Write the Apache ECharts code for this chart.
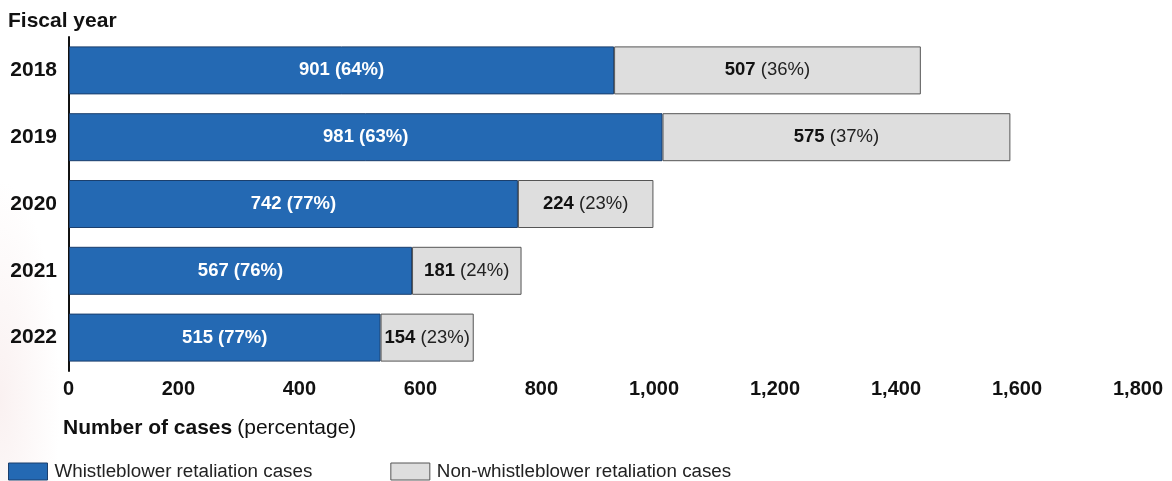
<!DOCTYPE html>
<html>
<head>
<meta charset="utf-8">
<script src="https://cdn.jsdelivr.net/npm/echarts@6/dist/echarts.min.js"></script>
<style>
html,body{margin:0;padding:0;background:#fff;}
#chart{width:1172px;height:481px;
  background: radial-gradient(ellipse 60px 220px at 0px 400px, rgba(240,215,215,0.35), rgba(255,255,255,0) 100%), #fff;}
</style>
</head>
<body>
<div id="chart"></div>
<script>
const years = ['2018', '2019', '2020', '2021', '2022'];
const whistleCases = [901, 981, 742, 567, 515];
const whistlePct = [64, 63, 77, 76, 77];
const nonWhistleCases = [507, 575, 224, 181, 154];
const nonWhistlePct = [36, 37, 23, 24, 23];
const xTicks = [0, 200, 400, 600, 800, 1000, 1200, 1400, 1600, 1800];

const FONT = '"Liberation Sans", Arial, sans-serif';
const chart = echarts.init(document.getElementById('chart'), null, {renderer: 'canvas'});

chart.setOption({
  backgroundColor: 'transparent',
  animation: false,
  textStyle: {fontFamily: FONT},
  title: [
    {text: 'Fiscal year', left: 8, top: 11, padding: 0,
     textStyle: {fontFamily: FONT, fontSize: 21, fontWeight: 'bold', color: '#111'}},
    {text: '{b|Number of cases} {n|(percentage)}', left: 63, top: 418, padding: 0,
     textStyle: {rich: {
       b: {fontFamily: FONT, fontSize: 21, fontWeight: 'bold', color: '#111'},
       n: {fontFamily: FONT, fontSize: 21, fontWeight: 'normal', color: '#111'}
     }}}
  ],
  legend: {
    left: 8, top: 462, padding: 0,
    itemWidth: 39, itemHeight: 17, itemGap: 78,
    icon: 'rect',
    itemStyle: {borderWidth: 1},
    textStyle: {fontFamily: FONT, fontSize: 18.8, color: '#222', padding: [0, 0, 0, 2]},
    data: ['Whistleblower retaliation cases', 'Non-whistleblower retaliation cases']
  },
  grid: {left: 69, right: 14, top: 37, bottom: 110, containLabel: false},
  xAxis: {
    type: 'value', min: xTicks[0], max: xTicks[xTicks.length - 1], interval: 200,
    axisLine: {show: false}, axisTick: {show: false}, splitLine: {show: false},
    axisLabel: {
      margin: 8, align: 'right', padding: [0, -5, 0, 0],
      fontFamily: FONT, fontSize: 20, fontWeight: 'bold', color: '#111',
      formatter: v => v.toLocaleString('en-US')
    }
  },
  yAxis: {
    type: 'category', data: years, inverse: true,
    axisLine: {show: true, lineStyle: {color: '#111', width: 2}},
    axisTick: {show: false},
    axisLabel: {margin: 12, fontFamily: FONT, fontSize: 21, fontWeight: 'bold', color: '#111'}
  },
  series: [
    {
      name: 'Whistleblower retaliation cases', type: 'bar', stack: 'total',
      data: whistleCases, barWidth: 48,
      itemStyle: {color: '#2469b3', borderColor: '#1b3f6d', borderWidth: 1},
      label: {
        show: true, position: 'inside', color: '#fff',
        fontFamily: FONT, fontSize: 18.5, fontWeight: 'bold',
        formatter: p => p.value + ' (' + whistlePct[p.dataIndex] + '%)'
      }
    },
    {
      name: 'Non-whistleblower retaliation cases', type: 'bar', stack: 'total',
      data: nonWhistleCases, barWidth: 48,
      itemStyle: {color: '#dedede', borderColor: '#555', borderWidth: 1},
      label: {
        show: true, position: 'inside',
        formatter: p => '{b|' + p.value + '}{n| (' + nonWhistlePct[p.dataIndex] + '%)}',
        rich: {
          b: {fontFamily: FONT, fontSize: 18.5, fontWeight: 'bold', color: '#111'},
          n: {fontFamily: FONT, fontSize: 18.5, fontWeight: 'normal', color: '#222'}
        }
      }
    }
  ]
});
</script>
</body>
</html>
